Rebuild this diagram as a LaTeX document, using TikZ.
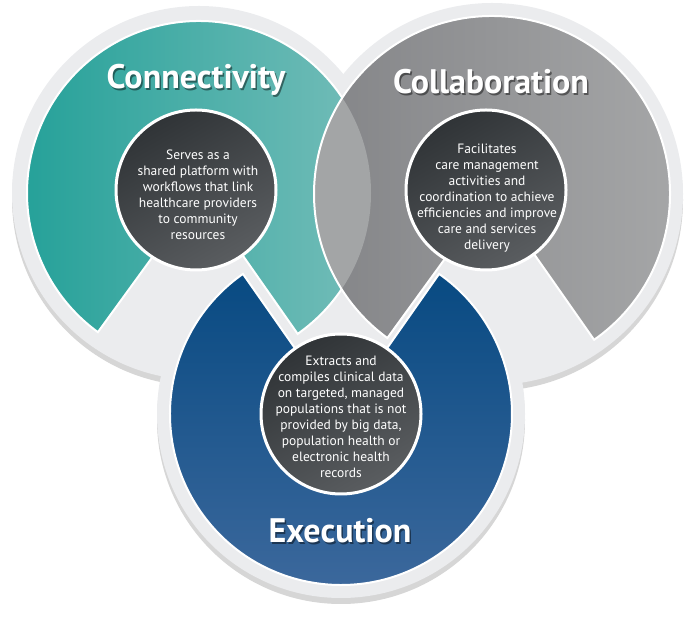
\documentclass[tikz,border=0pt]{standalone}
\usepackage{fontspec}
\setmainfont{PT Sans}
\usetikzlibrary{shadows}
\definecolor{tealL}{HTML}{25A199}
\definecolor{tealR}{HTML}{7ABFBB}
\definecolor{greyL}{HTML}{838487}
\definecolor{greyR}{HTML}{A7A8A9}
\definecolor{lensc}{HTML}{A3A5A6}
\definecolor{blueT}{HTML}{084A82}
\definecolor{blueB}{HTML}{3F6A9E}
\definecolor{haloc}{HTML}{EBECEE}
\definecolor{coreA}{HTML}{303437}
\definecolor{coreB}{HTML}{5A5D60}
\tikzset{
  halo/.style={fill=haloc, drop shadow={shadow xshift=0pt, shadow yshift=-6pt, opacity=.16, fill=black}},
  ring/.style={draw=white, line width=2pt},
  core/.style={circle, minimum size=160pt, inner sep=0pt, draw=white, line width=3pt,
               top color=coreA, bottom color=coreB, shading angle=30, align=center, text=white,
               font=\fontsize{13.5}{15.9}\selectfont},
  ringtitle/.style={font=\fontsize{34}{38}\selectfont\bfseries, text=white},
  titleshade/.style={ringtitle, text=black, opacity=.45},
}

\begin{document}
\begin{tikzpicture}[x=1pt, y=1pt]
  \useasboundingbox (0,0) rectangle (690,620);
  \coordinate (tc) at (199,427);
  \coordinate (gc) at (492,426);
  \coordinate (bc) at (341,206);
  % halos
  \fill[halo] (tc) circle (187);
  \fill[halo] (gc) circle (191);
  \fill[halo] (bc) circle (184);
  % rings, each with a wedge cut out
  \shadedraw[ring, left color=tealL, right color=tealR]
    (tc) -- ++(305:172) arc[start angle=305, end angle=594, radius=172] -- cycle;
  \shade[left color=greyL, right color=greyR]
    (gc) -- ++(305:178) arc[start angle=305, end angle=594, radius=178] -- cycle;
  \begin{scope}
    \clip (tc) circle (172);
    \fill[lensc] (gc) -- ++(305:178) arc[start angle=305, end angle=594, radius=178] -- cycle;
  \end{scope}
  \draw[ring] (gc) -- ++(305:178) arc[start angle=305, end angle=594, radius=178] -- cycle;
  \shadedraw[ring, top color=blueT, bottom color=blueB]
    (bc) -- ++(125:171) arc[start angle=125, end angle=415, radius=171] -- cycle;
  % centres
  \node[core] (connCore) at (196,430) {};
  \node[core] (collabCore) at (486,430) {};
  \node[core] (execCore) at (341,206) {};
  \node[align=center, text=white, font=\fontsize{13.5}{15.9}\selectfont] (connTxt) at (198,425)
    {Serves as a\\shared platform with\\workflows that link\\healthcare providers\\to community\\resources};
  \node[align=center, text=white, font=\fontsize{13.5}{15.9}\selectfont] (collabTxt) at (487,422)
    {Facilitates\\care management\\activities and\\coordination to achieve\\efficiencies and improve\\care and services\\delivery};
  \node[align=center, text=white, font=\fontsize{13.5}{15.9}\selectfont] (execTxt) at (341,203)
    {Extracts and\\compiles clinical data\\on targeted, managed\\populations that is not\\provided by big data,\\population health or\\electronic health\\records};
  % titles
  \node[titleshade] (connShade) at (197.5,538.5) {Connectivity};
  \node[ringtitle] (conn) at (196,540) {Connectivity};
  \node[titleshade] (collabShade) at (492.5,536.5) {Collaboration};
  \node[ringtitle] (collab) at (491,538) {Collaboration};
  \node[titleshade] (execShade) at (341.5,87.5) {Execution};
  \node[ringtitle] (exec) at (340,89) {Execution};
\end{tikzpicture}
\end{document}
